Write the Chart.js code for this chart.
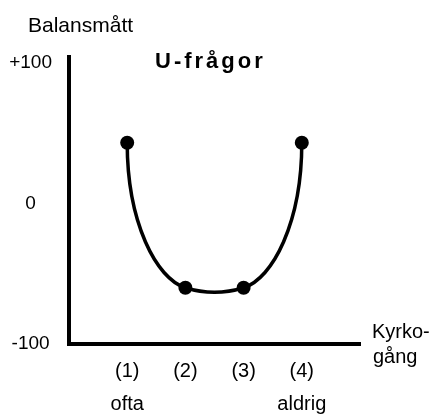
<!DOCTYPE html>
<html>
<head>
<meta charset="utf-8">
<script src="https://cdn.jsdelivr.net/npm/chart.js@4"></script>
<style>
  html, body { margin: 0; padding: 0; background: #fff; }
  #wrap { width: 432px; height: 416px; }
</style>
</head>
<body>
<div id="wrap"><canvas id="uChart" width="432" height="416"></canvas></div>
<script>
// kyrkogång (1 = ofta ... 4 = aldrig) against balansmått
const steps = [1, 2, 3, 4];
const stepLabels = [['(1)', 'ofta'], ['(2)', ''], ['(3)', ''], ['(4)', 'aldrig']];
const balance = [43, -60, -60, 43];
const yTicks = [-100, 0, 100];
const yTickLabels = ['-100', '0', '+100'];

const yTitle = 'Balansmått';
const chartTitle = 'U-frågor';
const xTitle = ['Kyrko-', 'gång'];

const FONT = '"Liberation Sans", Arial, Helvetica, sans-serif';

// smooth U through the four points (line itself, points drawn by chart.js)
const uCurve = {
  id: 'uCurve',
  beforeDatasetsDraw(chart) {
    const pts = chart.getDatasetMeta(0).data;
    if (pts.length < 4) return;
    const [a, b, c, d] = pts;
    const s = 0.31;
    const ctx = chart.ctx;
    ctx.save();
    ctx.beginPath();
    ctx.moveTo(a.x, a.y);
    let L = (b.x - a.x) / 2;
    ctx.bezierCurveTo(a.x, a.y + 0.55 * (b.y - a.y), b.x - L, b.y - s * L, b.x, b.y);
    const L2 = (c.x - b.x) / 3;
    ctx.bezierCurveTo(b.x + L2, b.y + s * L2, c.x - L2, c.y + s * L2, c.x, c.y);
    L = (d.x - c.x) / 2;
    ctx.bezierCurveTo(c.x + L, c.y - s * L, d.x, d.y + 0.55 * (c.y - d.y), d.x, d.y);
    ctx.lineWidth = 3.5;
    ctx.strokeStyle = '#000';
    ctx.lineCap = 'round';
    ctx.stroke();
    ctx.restore();
  }
};

const texts = {
  id: 'texts',
  afterDraw(chart) {
    const ctx = chart.ctx;
    const area = chart.chartArea;
    ctx.save();
    ctx.fillStyle = '#000';
    ctx.textBaseline = 'alphabetic';
    ctx.textAlign = 'left';

    ctx.font = '21px ' + FONT;
    ctx.fillText(yTitle, 28, 32);

    ctx.font = 'bold 22px ' + FONT;
    ctx.letterSpacing = '3px';
    ctx.fillText(chartTitle, 155, 68);
    ctx.letterSpacing = '0px';

    ctx.font = '20px ' + FONT;
    ctx.fillText(xTitle[0], area.right + 12, 338);
    ctx.fillText(xTitle[1], area.right + 13, 363);
    ctx.restore();
  }
};

new Chart(document.getElementById('uChart'), {
  type: 'scatter',
  data: {
    datasets: [{
      data: steps.map((x, i) => ({ x: x, y: balance[i] })),
      showLine: false,
      pointRadius: 7,
      pointHoverRadius: 7,
      pointBackgroundColor: '#000',
      pointBorderColor: '#000',
      pointBorderWidth: 0
    }]
  },
  options: {
    responsive: false,
    animation: false,
    layout: { padding: { top: 57, right: 72, left: 0, bottom: 0 } },
    plugins: {
      legend: { display: false },
      tooltip: { enabled: false }
    },
    scales: {
      x: {
        type: 'linear',
        min: 0,
        max: 5,
        afterBuildTicks: (scale) => { scale.ticks = steps.map(v => ({ value: v })); },
        afterFit: (scale) => { scale.height = 72; },
        grid: { display: false, drawTicks: false },
        border: { display: true, color: '#000', width: 4 },
        ticks: {
          padding: 11,
          color: '#000',
          font: { family: FONT, size: 20, lineHeight: 1.65 },
          callback: (v) => stepLabels[steps.indexOf(v)]
        }
      },
      y: {
        min: -100,
        max: 104,
        afterBuildTicks: (scale) => { scale.ticks = yTicks.map(v => ({ value: v })); },
        afterFit: (scale) => { scale.width = 69; },
        grid: { display: false, drawTicks: false },
        border: { display: true, color: '#000', width: 4 },
        ticks: {
          padding: 17,
          crossAlign: 'center',
          color: '#000',
          font: { family: FONT, size: 19 },
          callback: (v) => yTickLabels[yTicks.indexOf(v)]
        }
      }
    }
  },
  plugins: [uCurve, texts]
});
</script>
</body>
</html>
